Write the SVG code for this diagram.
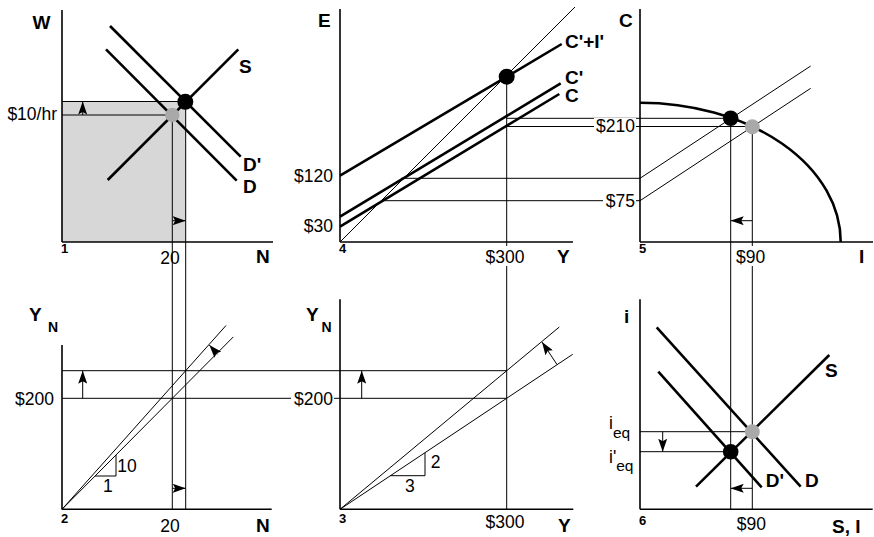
<svg xmlns="http://www.w3.org/2000/svg" width="874" height="537" viewBox="0 0 874 537">
<defs>
<marker id="ah" viewBox="0 0 13 9" refX="13" refY="4.5" markerWidth="13" markerHeight="9" markerUnits="userSpaceOnUse" orient="auto"><path d="M0,0 L13,4.5 L0,9 L2.5,4.5 z" fill="#000"/></marker>
<style>
.ax{stroke:#000;stroke-width:1.6;fill:none}
.th{stroke:#000;stroke-width:1;fill:none}
.tk{stroke:#000;stroke-width:2.6;fill:none}
.ar{stroke:#000;stroke-width:1;fill:none;marker-end:url(#ah)}
.bd{fill:#000}
.gd{fill:#a9a9a9}
text{font-family:"Liberation Sans",Arial,Helvetica,sans-serif;fill:#000}
.n{font-size:17.5px}
.b{font-size:19px;font-weight:bold}
.p{font-size:13px;font-weight:bold}
.s{font-size:14px;font-weight:bold}
.bg{fill:#fff}
</style>
</defs>
<rect x="62" y="101.5" width="123.7" height="140.5" fill="#d7d7d7"/>
<g id="connectors">
<line class="th" x1="172.3" y1="115" x2="172.3" y2="509.3"/>
<line class="th" x1="185.7" y1="101.5" x2="185.7" y2="509.3"/>
<line class="th" x1="506.7" y1="76.7" x2="506.7" y2="509.3"/>
<line class="th" x1="730.7" y1="118.3" x2="730.7" y2="509.3"/>
<line class="th" x1="752.3" y1="126.5" x2="752.3" y2="509.3"/>
<line class="th" x1="62" y1="101.5" x2="185.7" y2="101.5"/>
<line class="th" x1="62" y1="115" x2="172.3" y2="115"/>
<line class="th" x1="506.7" y1="118.3" x2="730.7" y2="118.3"/>
<line class="th" x1="506.7" y1="126.5" x2="752.3" y2="126.5"/>
<line class="th" x1="401" y1="178.3" x2="640" y2="178.3"/>
<line class="th" x1="382" y1="200.7" x2="640" y2="200.7"/>
<line class="th" x1="62" y1="370.7" x2="506.7" y2="370.7"/>
<line class="th" x1="62" y1="398.3" x2="506.7" y2="398.3"/>
<line class="th" x1="640" y1="431.7" x2="752.3" y2="431.7"/>
<line class="th" x1="640" y1="451.7" x2="730.7" y2="451.7"/>
</g>
<g id="panel1">
<line class="ax" x1="62" y1="10" x2="62" y2="242"/>
<line class="ax" x1="62" y1="242" x2="273" y2="242"/>
<line class="tk" x1="107.7" y1="180" x2="238.3" y2="49.3"/>
<line class="tk" x1="110" y1="26" x2="240.7" y2="156.7"/>
<line class="tk" x1="106" y1="49.3" x2="236.7" y2="180.7"/>
<line class="ar" x1="82.7" y1="115" x2="82.7" y2="101.5"/>
<line class="ar" x1="172.3" y1="220.7" x2="185.7" y2="220.7"/>
<circle class="bd" cx="185.3" cy="101.8" r="8"/>
<circle class="gd" cx="172.3" cy="115" r="7.2"/>
<text class="b" x="32.5" y="29">W</text>
<text class="n" x="57" y="120" text-anchor="end">$10/hr</text>
<text class="b" x="239" y="73">S</text>
<text class="b" x="243" y="171">D'</text>
<text class="b" x="243" y="193">D</text>
<text class="p" x="61" y="253">1</text>
<rect class="bg" x="158" y="247" width="13" height="19"/>
<rect class="bg" x="173" y="247" width="8" height="19"/>
<text class="n" x="170" y="264" text-anchor="middle">20</text>
<text class="b" x="256" y="263">N</text>
</g>
<g id="panel4">
<line class="ax" x1="340" y1="9" x2="340" y2="242"/>
<line class="ax" x1="340" y1="242" x2="573" y2="242"/>
<line class="th" x1="340" y1="242" x2="575" y2="7"/>
<line class="tk" x1="340" y1="175.7" x2="561.7" y2="44"/>
<line class="tk" x1="340" y1="216.7" x2="560.7" y2="83.3"/>
<line class="tk" x1="340" y1="226.7" x2="559.3" y2="94"/>
<circle class="bd" cx="506.7" cy="76.7" r="8"/>
<text class="b" x="318" y="27">E</text>
<text class="n" x="333" y="181.5" text-anchor="end">$120</text>
<text class="n" x="333" y="232" text-anchor="end">$30</text>
<text class="p" x="339" y="253">4</text>
<rect class="bg" x="483" y="246" width="44" height="20"/>
<text class="n" x="505" y="263" text-anchor="middle">$300</text>
<text class="b" x="557" y="263">Y</text>
<text class="b" x="565" y="47.5">C'+I'</text>
<text class="b" x="565" y="83.5" font-size="18">C'</text>
<text class="b" x="565" y="102" font-size="18">C</text>
</g>
<g id="panel5">
<line class="ax" x1="640" y1="9" x2="640" y2="242"/>
<line class="ax" x1="640" y1="242" x2="873" y2="242"/>
<path class="tk" d="M640,102.7 A200.7,139.3 0 0 1 840.7,242"/>
<line class="th" x1="640" y1="178.3" x2="810.7" y2="66"/>
<line class="th" x1="640" y1="200.7" x2="810.7" y2="88.3"/>
<line class="ar" x1="752.3" y1="220.7" x2="730.7" y2="220.7"/>
<circle class="bd" cx="730.7" cy="118.3" r="7.8"/>
<circle class="gd" cx="752.3" cy="126.7" r="7.5"/>
<text class="b" x="619" y="27">C</text>
<rect class="bg" x="594" y="118" width="42" height="17"/>
<text class="n" x="635" y="132.3" text-anchor="end">$210</text>
<rect class="bg" x="603" y="192" width="33" height="17"/>
<text class="n" x="635" y="206.5" text-anchor="end">$75</text>
<text class="p" x="639" y="253">5</text>
<rect class="bg" x="735" y="246" width="33" height="20"/>
<text class="n" x="736" y="263">$90</text>
<text class="b" x="859" y="263">I</text>
</g>
<g id="panel2">
<line class="ax" x1="62" y1="345" x2="62" y2="509.3"/>
<line class="ax" x1="62" y1="509.3" x2="271.7" y2="509.3"/>
<line class="th" x1="62" y1="509.3" x2="226" y2="325.5"/>
<line class="th" x1="62" y1="509.3" x2="233.3" y2="336.9"/>
<polyline class="th" points="95,476 116,476 116,455"/>
<line class="ar" x1="82.7" y1="398.3" x2="82.7" y2="370.7"/>
<line class="ar" x1="172.3" y1="488.3" x2="185.7" y2="488.3"/>
<line class="ar" x1="217.5" y1="354.3" x2="209.3" y2="345"/>
<text class="b" x="29" y="321">Y</text>
<text class="s" x="48" y="331.7">N</text>
<text class="n" x="54" y="404.5" text-anchor="end">$200</text>
<text class="n" x="117.3" y="471.5">10</text>
<text class="n" x="103" y="491.5">1</text>
<text class="p" x="61" y="523">2</text>
<text class="n" x="170" y="531.5" text-anchor="middle">20</text>
<text class="b" x="256" y="531.5">N</text>
</g>
<g id="panel3">
<line class="ax" x1="340" y1="299.3" x2="340" y2="509.3"/>
<line class="ax" x1="340" y1="509.3" x2="573.3" y2="509.3"/>
<line class="th" x1="340" y1="509.3" x2="559.3" y2="327"/>
<line class="th" x1="340" y1="509.3" x2="572.7" y2="354.3"/>
<polyline class="th" points="390.5,475.7 425,475.7 425,452.7"/>
<line class="ar" x1="361.7" y1="398.3" x2="361.7" y2="370.7"/>
<line class="ar" x1="557" y1="364.5" x2="542" y2="342"/>
<text class="b" x="306" y="321">Y</text>
<text class="s" x="321.5" y="331.7">N</text>
<rect class="bg" x="291" y="390" width="43" height="17"/>
<text class="n" x="333" y="404.5" text-anchor="end">$200</text>
<text class="n" x="430.7" y="468.3">2</text>
<text class="n" x="405" y="491.7">3</text>
<text class="p" x="339" y="523">3</text>
<text class="n" x="505" y="528" text-anchor="middle">$300</text>
<text class="b" x="558" y="531.5">Y</text>
</g>
<g id="panel6">
<line class="ax" x1="640" y1="299.3" x2="640" y2="509.3"/>
<line class="ax" x1="640" y1="509.3" x2="872.7" y2="509.3"/>
<line class="tk" x1="656.7" y1="327.3" x2="800.7" y2="486.7"/>
<line class="tk" x1="658.3" y1="371.7" x2="761.7" y2="487.3"/>
<line class="tk" x1="696" y1="486.7" x2="829.3" y2="355"/>
<line class="ar" x1="662.7" y1="431.7" x2="662.7" y2="451.7"/>
<line class="ar" x1="752.3" y1="488.3" x2="730.7" y2="488.3"/>
<circle class="gd" cx="752.3" cy="431.7" r="7.5"/>
<circle class="bd" cx="730.7" cy="451.7" r="7.8"/>
<text class="b" x="624" y="323.3">i</text>
<text class="b" x="825" y="377">S</text>
<text class="b" x="805" y="486.5">D</text>
<text class="b" x="765.7" y="486.5">D'</text>
<text class="n" x="609" y="428.5">i<tspan font-size="15.5" dy="9">eq</tspan></text>
<text class="n" x="609" y="462.5">i'<tspan font-size="15.5" dy="8">eq</tspan></text>
<text class="p" x="639" y="525">6</text>
<text class="n" x="736.7" y="530">$90</text>
<text class="b" x="832" y="533">S, I</text>
</g>
</svg>
